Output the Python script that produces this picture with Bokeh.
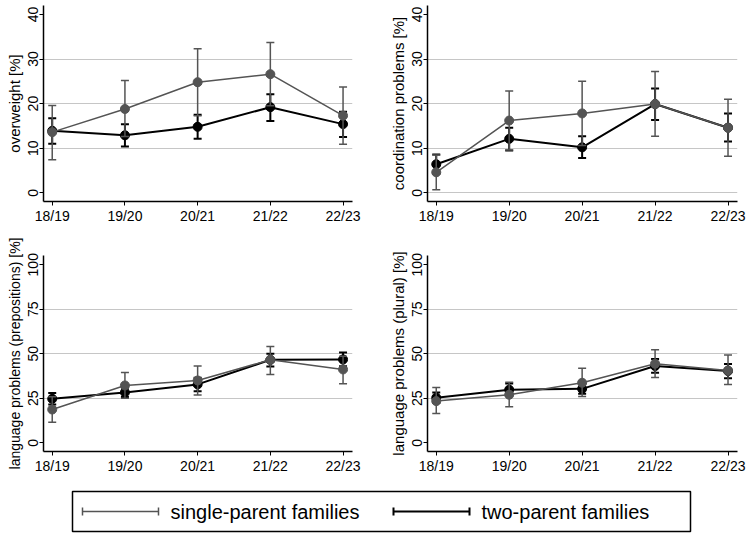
from bokeh.plotting import figure
from bokeh.models import Range1d, FixedTicker, ColumnDataSource
from bokeh.layouts import column, row
from bokeh.embed import file_html
from bokeh.resources import INLINE
from bokeh.core.properties import value

# ---------------- data ----------------
seasons = ["18/19", "19/20", "20/21", "21/22", "22/23"]
series_names = ["single-parent families", "two-parent families"]

overweight_single = [13.6, 18.8, 24.8, 26.6, 17.3]
overweight_single_lo = [7.4, 12.6, 17.3, 19.5, 10.9]
overweight_single_hi = [19.6, 25.2, 32.3, 33.7, 23.7]
overweight_two = [13.9, 12.9, 14.8, 19.2, 15.4]
overweight_two_lo = [11.0, 10.4, 12.1, 16.1, 12.5]
overweight_two_hi = [16.7, 15.4, 17.5, 22.1, 18.2]

coord_single = [4.6, 16.2, 17.8, 19.9, 14.6]
coord_single_lo = [0.7, 9.6, 10.6, 12.7, 8.2]
coord_single_hi = [8.5, 22.8, 25.0, 27.2, 21.0]
coord_two = [6.4, 12.1, 10.2, 19.9, 14.6]
coord_two_lo = [4.3, 9.5, 7.8, 16.3, 11.5]
coord_two_hi = [8.6, 14.6, 12.7, 23.4, 17.8]

prep_single = [18.7, 32.2, 35.0, 46.6, 41.2]
prep_single_lo = [11.6, 25.0, 26.8, 38.4, 33.1]
prep_single_hi = [25.8, 39.5, 43.1, 54.1, 48.6]
prep_two = [24.7, 28.3, 32.8, 46.6, 46.8]
prep_two_lo = [21.5, 25.7, 29.0, 42.9, 43.0]
prep_two_hi = [27.9, 30.9, 36.5, 50.0, 50.7]

plural_single = [23.4, 27.0, 33.7, 44.4, 40.6]
plural_single_lo = [16.5, 20.2, 26.0, 36.7, 32.8]
plural_single_hi = [31.1, 34.0, 41.8, 52.2, 49.3]
plural_two = [25.3, 29.8, 30.3, 43.1, 40.3]
plural_two_lo = [22.3, 26.4, 27.5, 39.3, 36.3]
plural_two_hi = [28.3, 33.3, 33.2, 47.0, 44.2]

top_ticks = [0, 10, 20, 30, 40]
bottom_ticks = [0, 25, 50, 75, 100]

# ---------------- style ----------------
FONT = "Liberation Sans"
GRAY = "#545454"
BLACK = "#000000"
GRID = "#c6c6c6"


def panel(ylabel, ticks, grid_ticks, yr, single, s_lo, s_hi, two, t_lo, t_hi,
          width, height, mbl, mbr, mbt, mbb, label_size="15px"):
    xs = list(range(len(seasons)))
    p = figure(width=width, height=height, output_backend="svg", toolbar_location=None,
               x_range=Range1d(-0.12, len(seasons) - 1 + 0.13), y_range=Range1d(*yr),
               min_border_left=mbl, min_border_right=mbr,
               min_border_top=mbt, min_border_bottom=mbb)
    p.outline_line_color = None
    p.background_fill_color = "white"
    p.border_fill_color = "white"
    p.xgrid.visible = False
    p.ygrid.ticker = FixedTicker(ticks=grid_ticks)
    p.ygrid.grid_line_color = GRID
    p.ygrid.grid_line_width = 1

    p.xaxis.ticker = FixedTicker(ticks=xs)
    p.xaxis.major_label_overrides = {i: s for i, s in enumerate(seasons)}
    p.yaxis.ticker = FixedTicker(ticks=ticks)
    p.yaxis.major_label_orientation = "vertical"
    for ax in (p.xaxis[0], p.yaxis[0]):
        ax.axis_line_color = BLACK
        ax.axis_line_width = 1.5
        ax.major_tick_line_color = BLACK
        ax.major_tick_line_width = 1
        ax.major_tick_out = 4
        ax.major_tick_in = 0
        ax.minor_tick_line_color = None
        ax.major_label_text_font = FONT
        ax.major_label_text_color = BLACK
    p.xaxis.major_label_text_font_size = "14px"
    p.xaxis.major_label_standoff = 2
    p.yaxis.major_label_text_font_size = "14px"
    p.yaxis.major_label_standoff = 1
    p.yaxis.axis_label = ylabel
    p.yaxis.axis_label_text_font = FONT
    p.yaxis.axis_label_text_font_size = label_size
    p.yaxis.axis_label_text_font_style = "normal"
    p.yaxis.axis_label_text_color = BLACK
    p.yaxis.axis_label_standoff = 3

    for vals, lo, hi, color, lw in [(two, t_lo, t_hi, BLACK, 2.0),
                                    (single, s_lo, s_hi, GRAY, 1.5)]:
        src = ColumnDataSource(dict(x=xs, y=vals, lo=lo, hi=hi))
        p.segment(x0="x", y0="lo", x1="x", y1="hi", source=src,
                  line_color=color, line_width=lw)
        p.scatter(x="x", y="lo", marker="dash", size=8, source=src,
                  line_color=color, line_width=lw)
        p.scatter(x="x", y="hi", marker="dash", size=8, source=src,
                  line_color=color, line_width=lw)
        p.line(x="x", y="y", source=src, line_color=color, line_width=lw)
        p.scatter(x="x", y="y", marker="circle", size=9, source=src,
                  fill_color=color, line_color=color)
    return p


TOP_H, BOT_H = 236, 250
LW, RW = 378, 371

p1 = panel("overweight [%]", top_ticks, [10, 20, 30], (-1.95, 42),
           overweight_single, overweight_single_lo, overweight_single_hi,
           overweight_two, overweight_two_lo, overweight_two_hi,
           LW, TOP_H, 43, 26, 5, 35)
p2 = panel("coordination problems [%]", top_ticks, [0, 10, 20, 30], (-1.95, 42),
           coord_single, coord_single_lo, coord_single_hi,
           coord_two, coord_two_lo, coord_two_hi,
           RW, TOP_H, 49, 12, 5, 35)
p3 = panel("language problems (prepositions) [%]", bottom_ticks, [25, 50, 75], (-4.9, 105.2),
           prep_single, prep_single_lo, prep_single_hi,
           prep_two, prep_two_lo, prep_two_hi,
           LW, BOT_H, 43, 26, 19, 35, label_size="14px")
p4 = panel("language problems (plural) [%]", bottom_ticks, [25, 50, 75], (-4.9, 105.2),
           plural_single, plural_single_lo, plural_single_hi,
           plural_two, plural_two_lo, plural_two_hi,
           RW, BOT_H, 49, 12, 19, 35)

# ---------------- legend (own small figure, box = frame outline) ----------------
LEG_W, LEG_H = 749, 52
leg = figure(width=LEG_W, height=LEG_H, output_backend="svg", toolbar_location=None,
             x_range=Range1d(0, 618), y_range=Range1d(0, 40),
             x_axis_type=None, y_axis_type=None,
             min_border_left=72, min_border_right=59, min_border_top=5, min_border_bottom=7)
leg.grid.visible = False
leg.outline_line_color = BLACK
leg.outline_line_width = 1.5
leg.background_fill_color = "white"
leg.border_fill_color = "white"

sample_x0 = [10, 321]
sample_len = 76
leg_colors = [GRAY, BLACK]
leg_widths = [1.5, 2.0]
for x0, name, color, lw in zip(sample_x0, series_names, leg_colors, leg_widths):
    leg.segment(x0=[x0], y0=[20], x1=[x0 + sample_len], y1=[20], line_color=color, line_width=lw)
    leg.scatter(x=[x0, x0 + sample_len], y=[20, 20], marker="dash", angle=1.5708,
                size=8, line_color=color, line_width=lw)
    leg.text(x=[x0 + sample_len + 12], y=[20], text=[name], text_baseline="middle",
             text_align="left", text_font=value(FONT), text_font_size="20px",
             text_color=BLACK)

layout = column(row(p1, p2, spacing=0), row(p3, p4, spacing=0), leg, spacing=0)

open("out.html", "w").write(file_html(layout, INLINE))
